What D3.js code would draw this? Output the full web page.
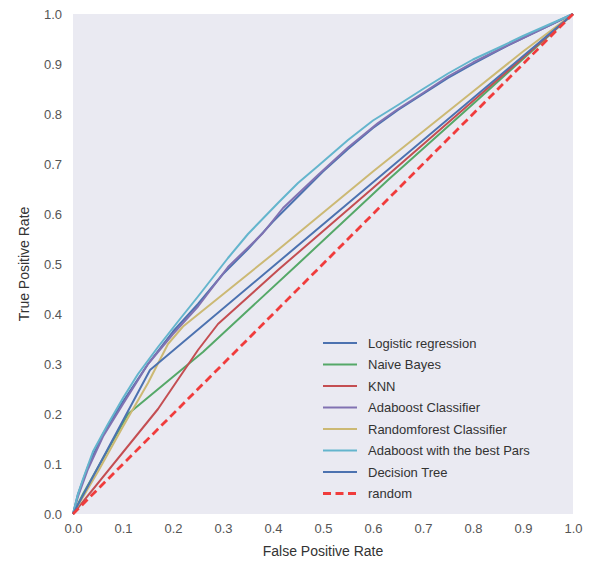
<!DOCTYPE html>
<html>
<head>
<meta charset="utf-8">
<script src="https://cdn.jsdelivr.net/npm/d3@7"></script>
<style>
  body { margin: 0; background: #fff; }
  text { font-family: "Liberation Sans", Arial, sans-serif; }
</style>
</head>
<body>
<div id="chart"></div>
<script>
// ROC curves, [fpr, tpr]
const logisticPts = [[0,0],[0.01,0.04],[0.03,0.095],[0.06,0.16],[0.1,0.225],[0.15,0.3],[0.2,0.365],[0.25,0.42],[0.3,0.48],[0.35,0.53],[0.4,0.585],[0.45,0.635],[0.5,0.685],[0.55,0.73],[0.6,0.772],[0.65,0.808],[0.7,0.84],[0.75,0.872],[0.8,0.9],[0.85,0.927],[0.9,0.952],[0.95,0.976],[1,1]];
const naiveBayesPts = [[0,0],[0.02,0.04],[0.11,0.2],[0.26,0.324],[0.45,0.5],[0.63,0.668],[0.8,0.82],[0.9,0.91],[1,1]];
const knnPts = [[0,0],[0.17,0.21],[0.25,0.328],[0.29,0.38],[0.41,0.488],[0.6,0.652],[0.8,0.826],[1,1]];
const adaboostPts = [[0,0],[0.01,0.035],[0.03,0.09],[0.06,0.155],[0.1,0.22],[0.15,0.3],[0.2,0.36],[0.25,0.415],[0.31,0.494],[0.38,0.562],[0.42,0.612],[0.49,0.678],[0.55,0.733],[0.61,0.782],[0.65,0.81],[0.7,0.842],[0.75,0.875],[0.8,0.903],[0.85,0.928],[0.9,0.952],[0.95,0.976],[1,1]];
const randomForestPts = [[0,0],[0.05,0.085],[0.1,0.175],[0.15,0.262],[0.19,0.34],[0.22,0.375],[0.4,0.52],[0.6,0.685],[0.8,0.845],[0.9,0.925],[1,1]];
const adaboostBestPts = [[0,0],[0.01,0.04],[0.02,0.07],[0.04,0.125],[0.07,0.18],[0.1,0.232],[0.13,0.28],[0.17,0.334],[0.21,0.385],[0.25,0.435],[0.31,0.512],[0.35,0.56],[0.41,0.622],[0.45,0.662],[0.49,0.696],[0.55,0.748],[0.6,0.787],[0.65,0.818],[0.7,0.85],[0.75,0.881],[0.8,0.909],[0.85,0.932],[0.9,0.956],[0.95,0.978],[1,1]];
const decisionTreePts = [[0,0],[0.154,0.288],[1,1]];
const randomPts = [[0,0],[1,1]];

const seriesNames = ["Logistic regression", "Naive Bayes", "KNN", "Adaboost Classifier",
  "Randomforest Classifier", "Adaboost with the best Pars", "Decision Tree", "random"];
const seriesPts = [logisticPts, naiveBayesPts, knnPts, adaboostPts,
  randomForestPts, adaboostBestPts, decisionTreePts, randomPts];
const seriesColors = ["#4C72B0", "#55A868", "#C44E52", "#8172B2", "#CCB974", "#64B5CD", "#4C72B0", "#f03c3c"];

const tickValues = [0, 0.1, 0.2, 0.3, 0.4, 0.5, 0.6, 0.7, 0.8, 0.9, 1.0];

const margin = { top: 14, right: 17, bottom: 48, left: 73 };
const width = 500, height = 500;

const svg = d3.select("#chart").append("svg")
    .attr("width", 590)
    .attr("height", 562);

const g = svg.append("g")
    .attr("transform", "translate(" + margin.left + "," + margin.top + ")");

g.append("rect")
    .attr("width", width)
    .attr("height", height)
    .style("fill", "#EAEAF2");

const x = d3.scaleLinear().domain([0, 1]).range([0, width]);
const y = d3.scaleLinear().domain([0, 1]).range([height, 0]);

// axes: no tick marks, no domain line
const xAxis = g.append("g")
    .attr("transform", "translate(0," + height + ")")
    .call(d3.axisBottom(x).tickValues(tickValues).tickFormat(d3.format(".1f")).tickSize(0).tickPadding(10));
const yAxis = g.append("g")
    .call(d3.axisLeft(y).tickValues(tickValues).tickFormat(d3.format(".1f")).tickSize(0).tickPadding(11));

[xAxis, yAxis].forEach(a => {
    a.select(".domain").remove();
    a.selectAll("text")
        .style("font-family", "Liberation Sans, Arial, sans-serif")
        .style("font-size", "13px")
        .style("fill", "#555");
});

svg.append("text")
    .attr("x", margin.left + width / 2)
    .attr("y", 556)
    .attr("text-anchor", "middle")
    .style("font-size", "14px")
    .style("fill", "#333")
    .text("False Positive Rate");

svg.append("text")
    .attr("transform", "translate(29," + (margin.top + height / 2) + ") rotate(-90)")
    .attr("text-anchor", "middle")
    .style("font-size", "14px")
    .style("fill", "#333")
    .text("True Positive Rate");

const line = d3.line()
    .x(d => x(d[0]))
    .y(d => y(d[1]));

seriesPts.forEach((pts, i) => {
    const isRandom = seriesNames[i] === "random";
    g.append("path")
        .datum(pts)
        .attr("d", line)
        .style("fill", "none")
        .style("stroke", seriesColors[i])
        .style("stroke-width", isRandom ? 2.8 : 2)
        .style("stroke-dasharray", isRandom ? "8,4.5" : null)
        .style("stroke-linejoin", "round");
});

// legend
const legend = g.selectAll(".legend")
    .data(seriesNames)
    .enter().append("g")
    .attr("class", "legend")
    .attr("transform", (d, i) => "translate(250," + (329 + i * 21.5) + ")");

legend.append("line")
    .attr("x1", 0)
    .attr("x2", 34)
    .style("stroke", (d, i) => seriesColors[i])
    .style("stroke-width", (d, i) => d === "random" ? 2.8 : 2)
    .style("stroke-dasharray", d => d === "random" ? "8,4.5" : null);

legend.append("text")
    .attr("x", 45)
    .attr("dy", "0.35em")
    .style("font-size", "13px")
    .style("fill", "#333")
    .text(d => d);
</script>
</body>
</html>
